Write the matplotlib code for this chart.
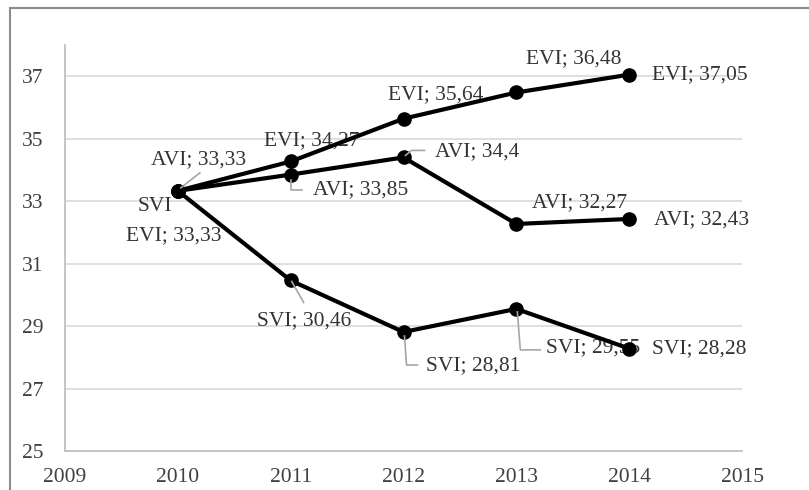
import matplotlib
matplotlib.use("Agg")
import matplotlib.pyplot as plt
from matplotlib.patches import Rectangle
from matplotlib.lines import Line2D

years = [2010, 2011, 2012, 2013, 2014]
evi = [33.33, 34.27, 35.64, 36.48, 37.05]
avi = [33.33, 33.85, 34.40, 32.27, 32.43]
svi = [33.33, 30.46, 28.81, 29.55, 28.28]
series_names = ["EVI", "AVI", "SVI"]
yticks = [25, 27, 29, 31, 33, 35, 37]
xticks = [2009, 2010, 2011, 2012, 2013, 2014, 2015]


def fmt(name, v):
    s = f"{v:.2f}".rstrip("0").rstrip(".")
    return f"{name}; {s.replace('.', ',')}"


labels = {
    "EVI": [fmt("EVI", v) for v in evi],
    "AVI": [fmt("AVI", v) for v in avi],
    "SVI": ["SVI"] + [fmt("SVI", v) for v in svi[1:]],
}

# label offsets in screen pixels (dx right, dy down) from the data point
offsets = {
    "EVI": [(-4, 45), (21, -21), (32, -24), (57, -34), (71, 0)],
    "AVI": [(21, -31), (70, 15), (74, -6), (63, -21), (72, 1)],
    "SVI": [(-23, 16), (13, 40), (70, 34), (77, 39), (70, 0)],
}
# leader polylines (screen pixel offsets, dy down) for some labels
leaders = {
    ("AVI", 0): [(3, -3), (22, -18)],
    ("AVI", 1): [(0, 5), (0, 15), (11, 15)],
    ("AVI", 2): [(2, -2), (8, -7), (21, -7)],
    ("SVI", 1): [(1, 1), (13, 22)],
    ("SVI", 2): [(1, 4), (3, 33), (14, 33)],
    ("SVI", 3): [(1, 3), (4, 41), (24, 41)],
}

W, H = 809, 490
fig = plt.figure(figsize=(W / 100, H / 100), dpi=100)
plt.rcParams["font.family"] = ["Liberation Serif", "DejaVu Serif"]

L, R, B, T = 65, 742, 451, 45
ax = fig.add_axes([L / W, (H - B) / H, (R - L) / W, (B - T) / H])
ax.set_xlim(2009, 2015)
ax.set_ylim(25, 38)
ax.set_xticks(xticks)
ax.set_yticks(yticks)
ax.tick_params(length=0, labelsize=15.5, labelcolor="#404040")
ax.tick_params(axis="x", pad=12)
ax.tick_params(axis="y", pad=15.5)
for lab in ax.get_xticklabels() + ax.get_yticklabels():
    lab.set_fontfamily(["Liberation Serif", "DejaVu Serif"])
for s in ["top", "right"]:
    ax.spines[s].set_visible(False)
for s in ["left", "bottom"]:
    ax.spines[s].set_color("#bfbfbf")
    ax.spines[s].set_linewidth(1.3)
for y in yticks[1:]:
    ax.axhline(y, color="#d9d9d9", lw=1.2, zorder=1)

data = {"EVI": evi, "AVI": avi, "SVI": svi}
for name in series_names:
    ax.plot(years, data[name], color="black", lw=3, marker="o",
            markersize=9.5, zorder=4, solid_capstyle="round")

fig.canvas.draw()
for name in series_names:
    for i, (x, v) in enumerate(zip(years, data[name])):
        dx, dy = offsets[name][i]
        ax.annotate(labels[name][i], xy=(x, v), xytext=(dx, -dy),
                    textcoords="offset pixels", ha="center", va="center",
                    fontsize=15.5, color="#333333", zorder=3,
                    annotation_clip=False)
        if (name, i) in leaders:
            px, py = ax.transData.transform((x, v))
            pts = leaders[(name, i)]
            xs = [px + p[0] for p in pts]
            ys = [py - p[1] for p in pts]
            fig.add_artist(Line2D(xs, ys, transform=None, color="#a6a6a6",
                                  lw=1.2, zorder=2))

fig.add_artist(Rectangle((9.5 / W, -0.2), 2.0, (H - 8.5) / H + 0.2,
                         transform=fig.transFigure, fill=False,
                         edgecolor="#8c8c8c", lw=1.5, clip_on=False))

fig.savefig("out.png", dpi=100, facecolor="white")
